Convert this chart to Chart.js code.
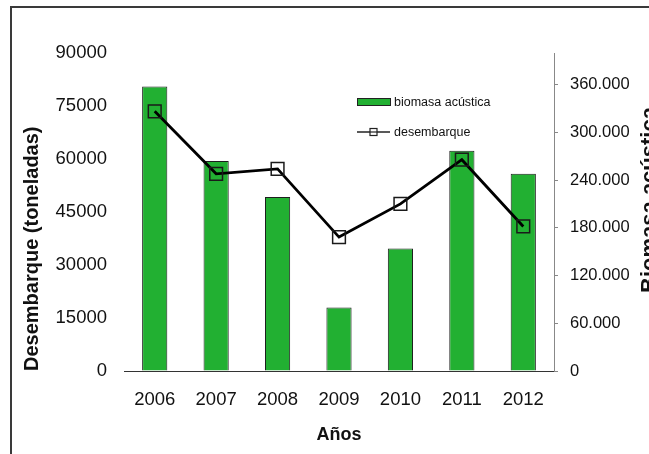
<!DOCTYPE html>
<html>
<head>
<meta charset="utf-8">
<script src="https://cdn.jsdelivr.net/npm/chart.js@4"></script>
<style>
  html, body { margin: 0; padding: 0; background: #fff; }
</style>
</head>
<body>
<canvas class="js-chart" width="649" height="454"></canvas>
<script>
const canvas = document.querySelector('.js-chart').getContext('2d');

const years = ['2006', '2007', '2008', '2009', '2010', '2011', '2012'];
const biomasa = [358000, 264000, 219000, 80000, 154000, 277000, 248000];
const desembarque = [73500, 55800, 57200, 37900, 47300, 59800, 40900];
const LEFT_MAX = 90000, LEFT_STEP = 15000;
const RIGHT_MAX = 400000;
const rightTicks = [0, 60000, 120000, 180000, 240000, 300000, 360000];

const GREEN = '#22b032';
const FONT = "'Liberation Sans', Arial, sans-serif";

function withDots(v) {
    return String(v).replace(/\B(?=(\d{3})+(?!\d))/g, '.');
}

// frame, right-hand title and the legend inside the plot
const extras = {
    id: 'extras',
    beforeDraw(chart) {
        const ctx = chart.ctx;
        ctx.save();
        ctx.fillStyle = '#fff';
        ctx.fillRect(0, 0, chart.width, chart.height);
        ctx.restore();
    },
    afterDraw(chart) {
        const ctx = chart.ctx, area = chart.chartArea;
        ctx.save();
        ctx.strokeStyle = '#3a3a3a';
        ctx.lineWidth = 2;
        ctx.beginPath();
        ctx.moveTo(11, chart.height + 5);
        ctx.lineTo(11, 7);
        ctx.lineTo(chart.width + 5, 7);
        ctx.stroke();

        // right axis title, reads bottom to top
        const fs = 22;
        ctx.save();
        ctx.translate(640 + 0.716 * fs, area.top + 147);
        ctx.rotate(-Math.PI / 2);
        ctx.font = 'bold ' + fs + 'px ' + FONT;
        ctx.fillStyle = '#111';
        ctx.textAlign = 'center';
        ctx.textBaseline = 'alphabetic';
        ctx.fillText('Biomasa acústica', 0, 0);
        ctx.restore();

        // legend
        const lx = area.left + 233, ly1 = area.top + 49, ly2 = area.top + 79;
        ctx.fillStyle = GREEN;
        ctx.fillRect(lx, ly1 - 3.5, 33, 7);
        ctx.strokeStyle = '#222';
        ctx.lineWidth = 1;
        ctx.strokeRect(lx + 0.5, ly1 - 3.5, 33, 7);

        ctx.beginPath();
        ctx.lineWidth = 1.5;
        ctx.moveTo(lx, ly2);
        ctx.lineTo(lx + 33, ly2);
        ctx.stroke();
        ctx.fillStyle = '#fff';
        ctx.fillRect(lx + 13, ly2 - 3.5, 7, 7);
        ctx.lineWidth = 1.2;
        ctx.strokeRect(lx + 13, ly2 - 3.5, 7, 7);
        ctx.beginPath();
        ctx.moveTo(lx + 13, ly2);
        ctx.lineTo(lx + 20, ly2);
        ctx.stroke();

        ctx.font = '12.5px ' + FONT;
        ctx.fillStyle = '#111';
        ctx.textAlign = 'left';
        ctx.textBaseline = 'middle';
        ctx.fillText(chart.data.datasets[1].label, lx + 37, ly1 + 1);
        ctx.fillText(chart.data.datasets[0].label, lx + 37, ly2 + 1);
        ctx.restore();
    }
};

new Chart(canvas, {
    type: 'bar',
    data: {
        labels: years,
        datasets: [{
            type: 'line',
            label: 'desembarque',
            data: desembarque,
            yAxisID: 'y',
            borderColor: '#000',
            borderWidth: 2.8,
            tension: 0,
            pointStyle: 'rect',
            pointRadius: 9,
            pointBorderWidth: 1.5,
            pointBorderColor: '#1a1a1a',
            pointBackgroundColor: 'rgba(0,0,0,0)',
            order: 0,
        },
        {
            label: 'biomasa acústica',
            data: biomasa,
            yAxisID: 'y2',
            backgroundColor: GREEN,
            borderColor: '#1e1e1e',
            borderWidth: 1,
            categoryPercentage: 1,
            barPercentage: 0.41,
            order: 1,
        }]
    },
    options: {
        responsive: false,
        animation: false,
        layout: { padding: { top: 53, left: 0, right: 0, bottom: 4 } },
        plugins: {
            legend: { display: false },
            tooltip: { enabled: false },
        },
        scales: {
            x: {
                grid: { display: false, drawTicks: false },
                border: { display: true, color: '#333', width: 1 },
                ticks: { color: '#111', font: { family: FONT, size: 18.5 }, padding: 18, maxRotation: 0 },
                title: {
                    display: true, text: 'Años', color: '#111',
                    font: { family: FONT, size: 18, weight: 'bold' },
                    padding: { top: 14, bottom: 4 },
                },
                afterFit(scale) { scale.height = 79; },
            },
            y: {
                position: 'left',
                min: 0, max: LEFT_MAX,
                grid: { display: false, drawTicks: false },
                border: { display: false },
                ticks: {
                    stepSize: LEFT_STEP, color: '#111', font: { family: FONT, size: 18.5 }, padding: 17,
                    callback: value => String(value),
                },
                title: {
                    display: true, text: 'Desembarque (toneladas)', color: '#111', align: 'start',
                    font: { family: FONT, size: 20, weight: 'bold' },
                    padding: { top: 20, bottom: 0 },
                },
                afterFit(scale) { scale.width = 124; },
            },
            y2: {
                position: 'right',
                min: 0, max: RIGHT_MAX,
                bounds: 'data',
                grid: { drawOnChartArea: false, color: '#888', tickLength: 4 },
                border: { display: true, color: '#888', width: 1 },
                ticks: {
                    color: '#111', font: { family: FONT, size: 16.5 }, padding: 12,
                    callback: value => withDots(value),
                },
                afterBuildTicks(scale) { scale.ticks = rightTicks.map(v => ({ value: v })); },
                afterFit(scale) { scale.width = 95; },
            }
        }
    },
    plugins: [extras]
});
</script>
</body>
</html>
